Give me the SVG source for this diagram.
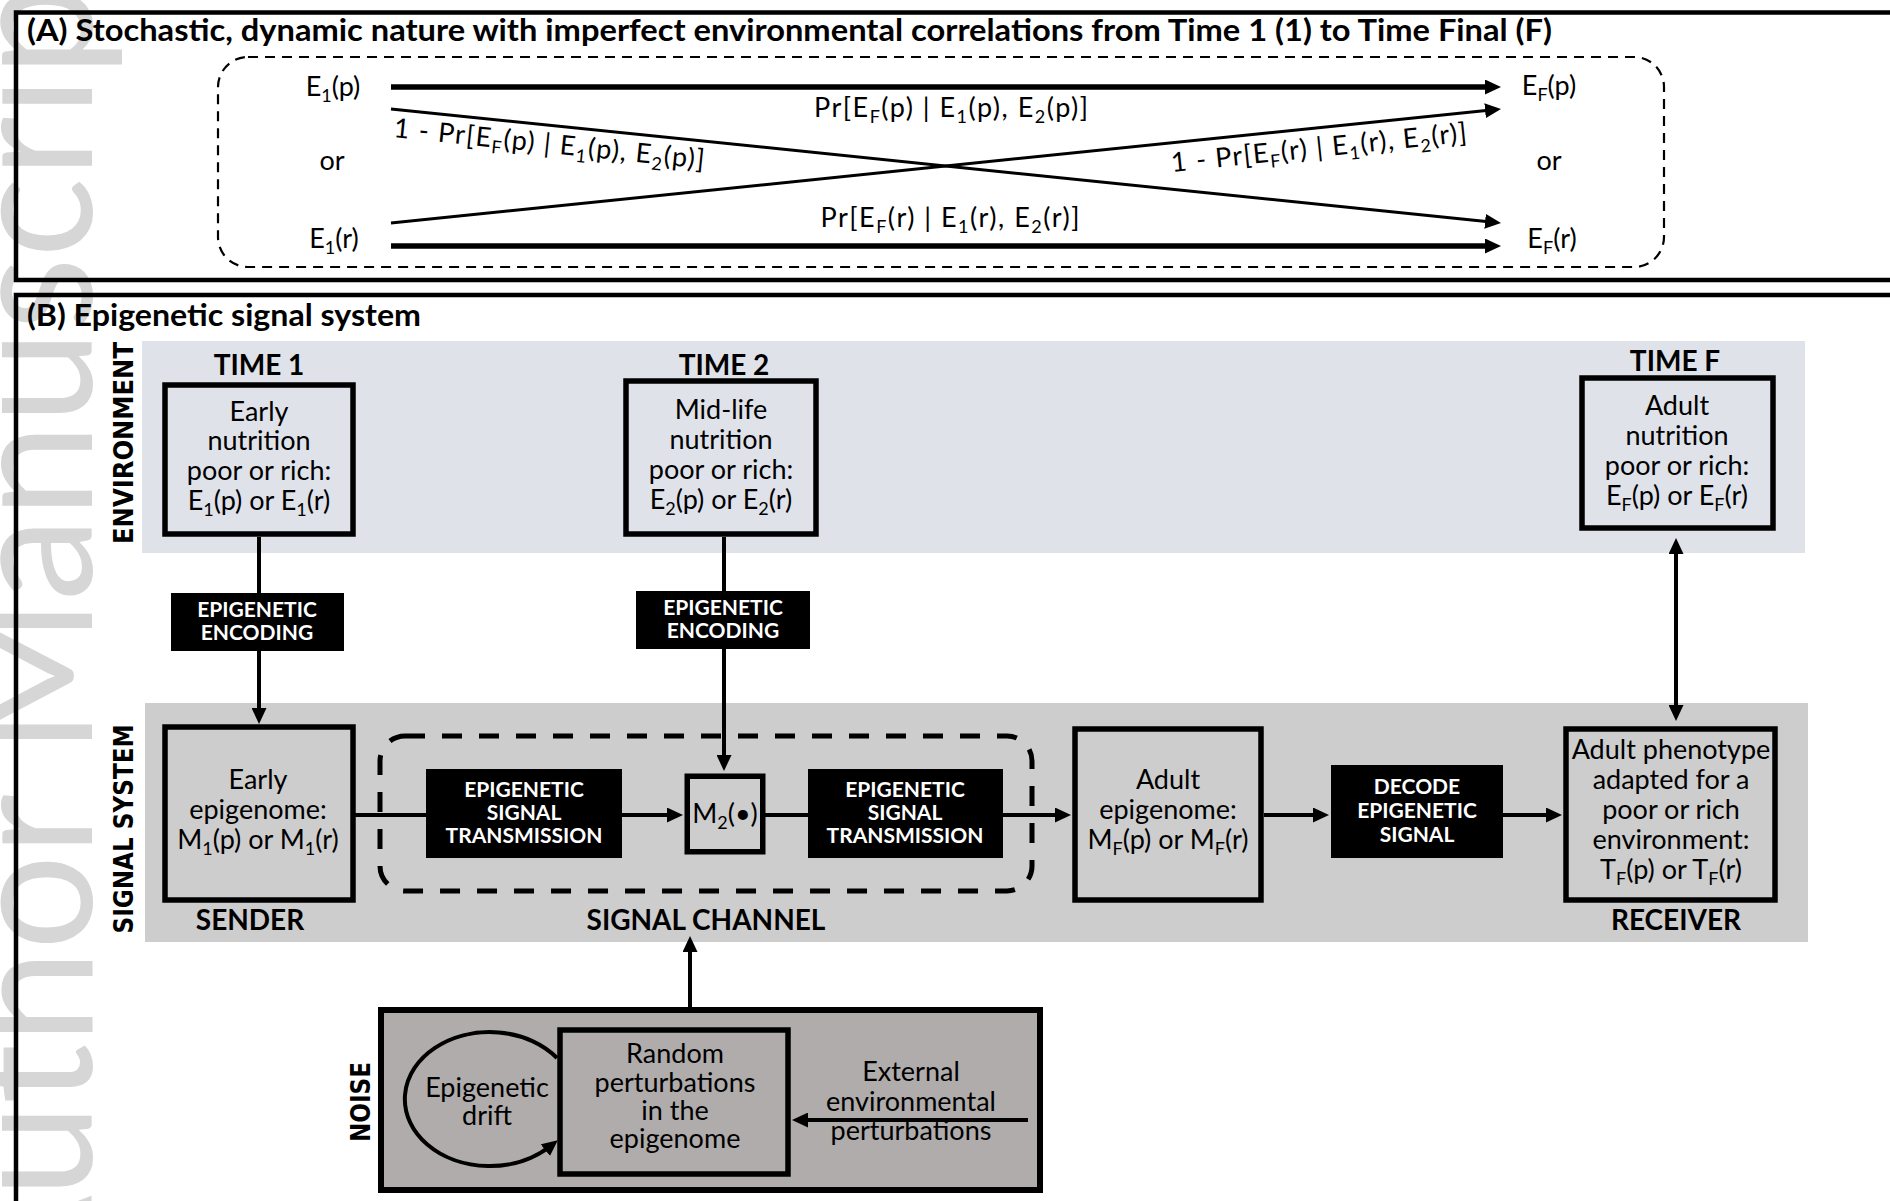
<svg xmlns="http://www.w3.org/2000/svg" width="1890" height="1201" viewBox="0 0 1890 1201">
<defs>
<style>
text { font-family: Lato, 'Open Sans', 'Liberation Sans', sans-serif; fill: #000; }
.body { font-size: 27px; text-anchor: middle; }
.start { text-anchor: start; }
.lab { font-size: 28px; font-weight: 700; text-anchor: middle; }
.inv { font-size: 21px; font-weight: 700; text-anchor: middle; fill: #fff; }
.side { font-family: 'DejaVu Sans', 'Liberation Sans', Arial, sans-serif; font-size: 27px; font-weight: 700; text-anchor: middle; }
.title { font-size: 30px; font-weight: 700; }
.sub { font-size: 18px; }
.box { fill: none; stroke: #000; stroke-width: 5.5; }
.blk { fill: #000; }
.ln { fill: none; stroke: #000; stroke-width: 4; }
.frame { fill: none; stroke: #000; stroke-width: 4.5; }
.wm { font-family: Lato, 'Liberation Sans', sans-serif; font-weight: 400; font-size: 176px; fill: #d6d6d6; }
</style>
<marker id="ah" markerUnits="userSpaceOnUse" markerWidth="16" markerHeight="15" refX="6" refY="7.5" orient="auto-start-reverse">
<path d="M0,0 L16,7.5 L0,15 z" fill="#000"/>
</marker>
</defs>

<rect width="1890" height="1201" fill="#fff"/>

<!-- background watermark -->
<text class="wm" transform="translate(92,1309) rotate(-90)" textLength="1386" lengthAdjust="spacingAndGlyphs">Author Manuscript</text>

<!-- panel frames -->
<rect class="frame" x="16" y="12.5" width="1900" height="267.5"/>
<rect class="frame" x="16" y="295" width="1900" height="1000"/>

<text class="title" x="27" y="41" textLength="1525" lengthAdjust="spacingAndGlyphs">(A) Stochastic, dynamic nature with imperfect environmental correlations from Time 1 (1) to Time Final (F)</text>
<text class="title" x="27" y="326" textLength="394" lengthAdjust="spacingAndGlyphs">(B) Epigenetic signal system</text>

<!-- panel A: environmental states -->
<rect x="218" y="57" width="1446" height="210" rx="30" fill="none" stroke="#000" stroke-width="2.2" stroke-dasharray="10 7"/>
<g id="a-e1p"><text class="body" x="333" y="96">E<tspan class="sub" dy="6">1</tspan><tspan dy="-6">(p)</tspan></text></g>
<g id="a-or-left"><text class="body" x="332" y="170">or</text></g>
<g id="a-e1r"><text class="body" x="334" y="248">E<tspan class="sub" dy="6">1</tspan><tspan dy="-6">(r)</tspan></text></g>
<g id="a-efp"><text class="body" x="1549" y="95">E<tspan class="sub" dy="6">F</tspan><tspan dy="-6">(p)</tspan></text></g>
<g id="a-or-right"><text class="body" x="1549" y="170">or</text></g>
<g id="a-efr"><text class="body" x="1552" y="248">E<tspan class="sub" dy="6">F</tspan><tspan dy="-6">(r)</tspan></text></g>

<g id="a-connectors">
<line x1="391" y1="87" x2="1491" y2="87" stroke="#000" stroke-width="5.5" marker-end="url(#ah)"/>
<line x1="391" y1="246" x2="1491" y2="246" stroke="#000" stroke-width="5.5" marker-end="url(#ah)"/>
<line x1="391" y1="109" x2="1491.05" y2="221.98" stroke="#000" stroke-width="3" marker-end="url(#ah)"/>
<line x1="391" y1="223" x2="1491.05" y2="110.02" stroke="#000" stroke-width="3" marker-end="url(#ah)"/>
<text class="body" x="951" y="117" textLength="274" lengthAdjust="spacing">Pr[E<tspan class="sub" dy="6">F</tspan><tspan dy="-6">(p) | E</tspan><tspan class="sub" dy="6">1</tspan><tspan dy="-6">(p), E</tspan><tspan class="sub" dy="6">2</tspan><tspan dy="-6">(p)]</tspan></text>
<text class="body" x="950" y="227" textLength="259" lengthAdjust="spacing">Pr[E<tspan class="sub" dy="6">F</tspan><tspan dy="-6">(r) | E</tspan><tspan class="sub" dy="6">1</tspan><tspan dy="-6">(r), E</tspan><tspan class="sub" dy="6">2</tspan><tspan dy="-6">(r)]</tspan></text>
<text class="body start" transform="translate(393,137) rotate(5.86)" textLength="312" lengthAdjust="spacing">1 - Pr[E<tspan class="sub" dy="6">F</tspan><tspan dy="-6">(p) | E</tspan><tspan class="sub" dy="6">1</tspan><tspan dy="-6">(p), E</tspan><tspan class="sub" dy="6">2</tspan><tspan dy="-6">(p)]</tspan></text>
<text class="body start" transform="translate(1172,172) rotate(-5.86)" textLength="297" lengthAdjust="spacing">1 - Pr[E<tspan class="sub" dy="6">F</tspan><tspan dy="-6">(r) | E</tspan><tspan class="sub" dy="6">1</tspan><tspan dy="-6">(r), E</tspan><tspan class="sub" dy="6">2</tspan><tspan dy="-6">(r)]</tspan></text>
</g>

<!-- panel B: bands -->
<g id="bands">
<rect id="environment-band" x="142" y="341" width="1663" height="212" fill="#dfe2e9"/>
<rect id="signal-band" x="145" y="703" width="1663" height="239" fill="#cdcdcd"/>
<text class="side" transform="translate(133,443) rotate(-90)" textLength="202" lengthAdjust="spacingAndGlyphs">ENVIRONMENT</text>
<text class="side" transform="translate(133,829) rotate(-90)" textLength="209" lengthAdjust="spacingAndGlyphs">SIGNAL SYSTEM</text>
</g>

<g id="time1">
<text class="lab" x="259" y="375">TIME 1</text>
<rect class="box" x="165" y="385" width="188" height="149"/>
<text class="body" x="259" y="421">Early</text>
<text class="body" x="259" y="450">nutrition</text>
<text class="body" x="259" y="480">poor or rich:</text>
<text class="body" x="259" y="510">E<tspan class="sub" dy="6">1</tspan><tspan dy="-6">(p) or E</tspan><tspan class="sub" dy="6">1</tspan><tspan dy="-6">(r)</tspan></text>
</g>

<g id="time2">
<text class="lab" x="724" y="375">TIME 2</text>
<rect class="box" x="626" y="381" width="190" height="153"/>
<text class="body" x="721" y="419">Mid-life</text>
<text class="body" x="721" y="449">nutrition</text>
<text class="body" x="721" y="479">poor or rich:</text>
<text class="body" x="721" y="509">E<tspan class="sub" dy="6">2</tspan><tspan dy="-6">(p) or E</tspan><tspan class="sub" dy="6">2</tspan><tspan dy="-6">(r)</tspan></text>
</g>

<g id="timeF">
<text class="lab" x="1675" y="371">TIME F</text>
<rect class="box" x="1582" y="378" width="191" height="150"/>
<text class="body" x="1677" y="415">Adult</text>
<text class="body" x="1677" y="445">nutrition</text>
<text class="body" x="1677" y="475">poor or rich:</text>
<text class="body" x="1677" y="505">E<tspan class="sub" dy="6">F</tspan><tspan dy="-6">(p) or E</tspan><tspan class="sub" dy="6">F</tspan><tspan dy="-6">(r)</tspan></text>
</g>

<g id="connectors">
<line class="ln" x1="259" y1="537" x2="259" y2="714" stroke-width="3.5" marker-end="url(#ah)"/>
<line class="ln" x1="724" y1="537" x2="724" y2="761" stroke-width="3.5" marker-end="url(#ah)"/>
<line class="ln" x1="355" y1="815" x2="426" y2="815"/>
<line class="ln" x1="622" y1="815" x2="673" y2="815" marker-end="url(#ah)"/>
<line class="ln" x1="765" y1="815" x2="808" y2="815"/>
<line class="ln" x1="1003" y1="815" x2="1061" y2="815" marker-end="url(#ah)"/>
<line class="ln" x1="1264" y1="815" x2="1319" y2="815" marker-end="url(#ah)"/>
<line class="ln" x1="1503" y1="815" x2="1552" y2="815" marker-end="url(#ah)"/>
<line class="ln" x1="1676" y1="548" x2="1676" y2="711" marker-start="url(#ah)" marker-end="url(#ah)"/>
<line class="ln" x1="690" y1="1007" x2="690" y2="946" marker-end="url(#ah)"/>
</g>

<g id="encode1">
<rect class="blk" x="171" y="593" width="173" height="58"/>
<text class="inv" x="257" y="617">EPIGENETIC</text>
<text class="inv" x="257" y="640">ENCODING</text>
</g>

<g id="encode2">
<rect class="blk" x="636" y="591" width="174" height="58"/>
<text class="inv" x="723" y="615">EPIGENETIC</text>
<text class="inv" x="723" y="638">ENCODING</text>
</g>

<g id="sender">
<rect class="box" x="165" y="727" width="188" height="173"/>
<text class="body" x="258" y="789">Early</text>
<text class="body" x="258" y="819">epigenome:</text>
<text class="body" x="258" y="849">M<tspan class="sub" dy="6">1</tspan><tspan dy="-6">(p) or M</tspan><tspan class="sub" dy="6">1</tspan><tspan dy="-6">(r)</tspan></text>
<text class="lab" x="250" y="930">SENDER</text>
</g>

<g id="signal-channel">
<rect x="380" y="736" width="652" height="155" rx="25" fill="none" stroke="#000" stroke-width="5" stroke-dasharray="20 17"/>
<text class="lab" x="706" y="930">SIGNAL CHANNEL</text>
</g>

<g id="transmission1">
<rect class="blk" x="426" y="769" width="196" height="89"/>
<text class="inv" x="524" y="797">EPIGENETIC</text>
<text class="inv" x="524" y="820">SIGNAL</text>
<text class="inv" x="524" y="843">TRANSMISSION</text>
</g>

<g id="m2">
<rect class="box" x="687.25" y="776.25" width="75.5" height="75.5" stroke-width="4.5"/>
<text class="body" x="725" y="823">M<tspan class="sub" dy="6">2</tspan><tspan dy="-6">(•)</tspan></text>
</g>

<g id="transmission2">
<rect class="blk" x="808" y="769" width="195" height="89"/>
<text class="inv" x="905" y="797">EPIGENETIC</text>
<text class="inv" x="905" y="820">SIGNAL</text>
<text class="inv" x="905" y="843">TRANSMISSION</text>
</g>

<g id="adult-epigenome">
<rect class="box" x="1075" y="729" width="186" height="171"/>
<text class="body" x="1168" y="789">Adult</text>
<text class="body" x="1168" y="819">epigenome:</text>
<text class="body" x="1168" y="849">M<tspan class="sub" dy="6">F</tspan><tspan dy="-6">(p) or M</tspan><tspan class="sub" dy="6">F</tspan><tspan dy="-6">(r)</tspan></text>
</g>

<g id="decode">
<rect class="blk" x="1331" y="765" width="172" height="93"/>
<text class="inv" x="1417" y="794">DECODE</text>
<text class="inv" x="1417" y="818">EPIGENETIC</text>
<text class="inv" x="1417" y="842">SIGNAL</text>
</g>

<g id="receiver">
<rect class="box" x="1566" y="729" width="209" height="171"/>
<text class="body" x="1671" y="759">Adult phenotype</text>
<text class="body" x="1671" y="789">adapted for a</text>
<text class="body" x="1671" y="819">poor or rich</text>
<text class="body" x="1671" y="849">environment:</text>
<text class="body" x="1671" y="879">T<tspan class="sub" dy="6">F</tspan><tspan dy="-6">(p) or T</tspan><tspan class="sub" dy="6">F</tspan><tspan dy="-6">(r)</tspan></text>
<text class="lab" x="1676" y="930">RECEIVER</text>
</g>

<g id="noise">
<rect x="381" y="1010" width="659" height="180" fill="#afacab" stroke="#000" stroke-width="6"/>
<text class="side" transform="translate(370,1102) rotate(-90)" textLength="80" lengthAdjust="spacingAndGlyphs">NOISE</text>
</g>

<g id="random-perturbations">
<rect class="box" x="560" y="1030" width="228" height="144" stroke-width="6"/>
<text class="body" x="675" y="1063">Random</text>
<text class="body" x="675" y="1092">perturbations</text>
<text class="body" x="675" y="1120">in the</text>
<text class="body" x="675" y="1148">epigenome</text>
</g>

<g id="epigenetic-drift">
<text class="body" x="487" y="1097">Epigenetic</text>
<text class="body" x="487" y="1125">drift</text>
</g>

<g id="external">
<text class="body" x="911" y="1081">External</text>
<text class="body" x="911" y="1111">environmental</text>
<text class="body" x="911" y="1140">perturbations</text>
</g>

<g id="noise-connectors">
<path class="ln" d="M557,1058 A85,67 0 1,0 550,1146.4" stroke-width="5" marker-end="url(#ah)"/>
<line class="ln" x1="1028" y1="1120" x2="802" y2="1120" marker-end="url(#ah)"/>
</g>
</svg>
